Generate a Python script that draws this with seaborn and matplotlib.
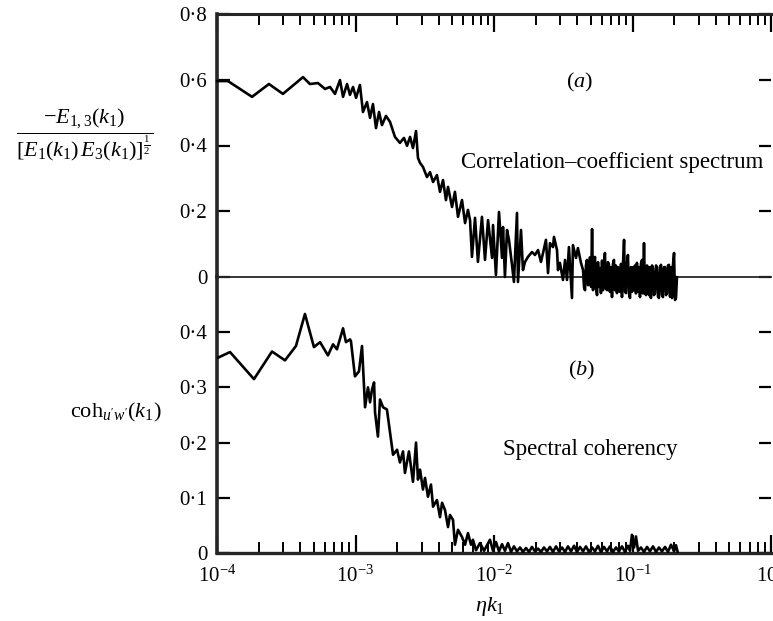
import numpy as np
import pandas as pd
import matplotlib
matplotlib.use("Agg")
import matplotlib.pyplot as plt
from matplotlib.ticker import FuncFormatter, LogLocator, NullFormatter
import seaborn as sns

# ---------------- data ----------------
# (a) correlation-coefficient spectrum: log10(eta k1) and value
log10_k_a = [
    -4.000, -3.921, -3.747, -3.625, -3.524, -3.379, -3.329, -3.271, -3.220, -3.184,
    -3.148, -3.112, -3.090, -3.061, -3.040, -3.018, -2.996, -2.968, -2.946, -2.917,
    -2.895, -2.874, -2.852, -2.830, -2.809, -2.780, -2.751, -2.715, -2.679, -2.650,
    -2.628, -2.606, -2.585, -2.563, -2.549, -2.534, -2.513, -2.484, -2.462, -2.440,
    -2.412, -2.390, -2.368, -2.347, -2.332, -2.303, -2.282, -2.260, -2.231, -2.209,
    -2.188, -2.173, -2.159, -2.137, -2.116, -2.087, -2.065, -2.043, -2.014, -2.007,
    -1.986, -1.964, -1.942, -1.935, -1.921, -1.906, -1.892, -1.870, -1.856, -1.834,
    -1.827, -1.805, -1.791, -1.776, -1.755, -1.726, -1.704, -1.682, -1.661, -1.646,
    -1.625, -1.610, -1.596, -1.574, -1.567, -1.545, -1.538, -1.524, -1.502, -1.487,
    -1.473, -1.459, -1.437, -1.430, -1.408, -1.394, -1.372,
    -1.357, -1.350, -1.343, -1.336, -1.329, -1.321, -1.314, -1.307, -1.299, -1.292,
    -1.285, -1.278, -1.271, -1.263, -1.256, -1.249, -1.242, -1.235, -1.228, -1.220,
    -1.213, -1.206, -1.199, -1.192, -1.184, -1.177, -1.170, -1.163, -1.155, -1.148,
    -1.141, -1.134, -1.127, -1.120, -1.112, -1.105, -1.098, -1.091, -1.083, -1.076,
    -1.069, -1.061, -1.054, -1.047, -1.040, -1.033, -1.025, -1.018, -1.011, -1.004,
    -0.996, -0.989, -0.982, -0.975, -0.968, -0.960, -0.953, -0.946, -0.939, -0.931,
    -0.924, -0.917, -0.910, -0.903, -0.895, -0.888, -0.881, -0.874, -0.867, -0.859,
    -0.852, -0.845, -0.838, -0.830, -0.823, -0.816, -0.809, -0.801, -0.794, -0.787,
    -0.780, -0.773, -0.765, -0.758, -0.751, -0.744, -0.737, -0.729, -0.722, -0.715,
    -0.708, -0.700, -0.693, -0.686, -0.679,
]
coeff_a = [
    0.596, 0.596, 0.548, 0.587, 0.557, 0.608, 0.587, 0.590, 0.572, 0.578,
    0.557, 0.599, 0.548, 0.587, 0.554, 0.578, 0.545, 0.584, 0.502, 0.532,
    0.484, 0.526, 0.453, 0.502, 0.462, 0.490, 0.472, 0.426, 0.408, 0.423,
    0.399, 0.426, 0.392, 0.444, 0.362, 0.347, 0.335, 0.304, 0.319, 0.289,
    0.310, 0.259, 0.295, 0.234, 0.274, 0.213, 0.259, 0.183, 0.234, 0.164,
    0.204, 0.173, 0.061, 0.180, 0.046, 0.183, 0.052, 0.173, 0.058, 0.158,
    0.006, 0.198, 0.058, 0.152, 0.000, 0.143, 0.113, 0.037, -0.015, 0.195,
    -0.015, 0.143, 0.021, 0.046, 0.061, 0.076, 0.067, 0.082, 0.046, 0.073,
    0.113, 0.012, 0.103, 0.091, 0.122, 0.082, 0.021, 0.043, -0.009, 0.052,
    -0.009, 0.091, -0.064, 0.097, 0.058, 0.088, 0.043,
    0.021, -0.030, -0.040, 0.035, 0.052, -0.025, -0.018, 0.060, -0.030, 0.146,
    -0.040, 0.040, 0.061, -0.035, -0.055, 0.045, -0.030, 0.027, -0.049, 0.050,
    -0.040, 0.040, 0.073, -0.035, -0.040, 0.045, 0.037, -0.045, 0.030, -0.061,
    0.040, 0.052, -0.040, 0.035, -0.049, 0.030, 0.021, -0.045, 0.040, -0.061,
    0.035, 0.113, -0.045, -0.049, 0.040, 0.067, -0.050, -0.064, 0.030, -0.045,
    0.030, -0.040, 0.035, -0.050, 0.043, -0.045, 0.030, -0.061, 0.040, 0.052,
    -0.050, 0.103, -0.045, -0.055, 0.035, 0.021, -0.055, 0.030, -0.064, 0.035,
    0.027, -0.055, -0.049, 0.035, 0.030, -0.060, -0.064, 0.030, 0.037, -0.055,
    -0.061, 0.030, 0.030, -0.055, -0.049, 0.035, 0.037, -0.060, 0.030, -0.064,
    0.035, 0.073, -0.070, -0.064, 0.000,
]

# (b) spectral coherency
log10_k_b = [
    -4.000, -3.906, -3.733, -3.603, -3.509, -3.430, -3.365, -3.300, -3.256, -3.199,
    -3.162, -3.134, -3.090, -3.069, -3.040, -3.033, -3.004, -2.975, -2.953, -2.931,
    -2.910, -2.895, -2.881, -2.866, -2.859, -2.838, -2.823, -2.801, -2.773, -2.729,
    -2.700, -2.679, -2.657, -2.643, -2.614, -2.585, -2.563, -2.549, -2.534, -2.513,
    -2.498, -2.477, -2.455, -2.440, -2.412, -2.390, -2.375, -2.354, -2.332, -2.318,
    -2.296, -2.282, -2.260, -2.231, -2.209, -2.188, -2.166, -2.152, -2.130, -2.101,
    -2.072, -2.029, -2.007, -1.986, -1.964, -1.942, -1.921, -1.899, -1.877, -1.856,
    -1.834, -1.812, -1.791, -1.769, -1.747, -1.726, -1.704, -1.682, -1.661, -1.639,
    -1.617, -1.596, -1.574, -1.552, -1.531, -1.509, -1.487, -1.466, -1.444, -1.422,
    -1.401, -1.379, -1.357, -1.336, -1.314, -1.292, -1.271, -1.249, -1.228, -1.206,
    -1.184, -1.163, -1.141, -1.119, -1.098, -1.076, -1.054, -1.033, -1.018, -1.004,
    -0.989, -0.975, -0.960, -0.939, -0.917, -0.895, -0.874, -0.852, -0.830, -0.809,
    -0.787, -0.765, -0.744, -0.722, -0.700, -0.686, -0.672,
]
coh_b = [
    0.353, 0.364, 0.315, 0.365, 0.349, 0.375, 0.433, 0.373, 0.382, 0.358,
    0.378, 0.369, 0.407, 0.382, 0.387, 0.384, 0.320, 0.329, 0.375, 0.264,
    0.300, 0.273, 0.296, 0.309, 0.255, 0.211, 0.278, 0.264, 0.260, 0.178,
    0.187, 0.164, 0.184, 0.145, 0.184, 0.129, 0.200, 0.133, 0.151, 0.115,
    0.136, 0.102, 0.124, 0.084, 0.096, 0.065, 0.091, 0.078, 0.047, 0.069,
    0.060, 0.015, 0.042, 0.029, 0.015, 0.036, 0.015, 0.024, 0.005, 0.018,
    0.004, 0.024, 0.004, 0.020, 0.003, 0.016, 0.004, 0.018, 0.002, 0.012,
    0.003, 0.010, 0.002, 0.009, 0.002, 0.011, 0.003, 0.008, 0.002, 0.010,
    0.003, 0.011, 0.002, 0.012, 0.003, 0.010, 0.002, 0.012, 0.003, 0.013,
    0.002, 0.011, 0.003, 0.012, 0.002, 0.010, 0.003, 0.013, 0.002, 0.011,
    0.003, 0.012, 0.002, 0.010, 0.003, 0.012, 0.002, 0.013, 0.004, 0.033,
    0.010, 0.030, 0.004, 0.010, 0.002, 0.011, 0.003, 0.012, 0.002, 0.010,
    0.003, 0.011, 0.002, 0.015, 0.003, 0.014, 0.000,
]

y_ticks_a = [0, 0.2, 0.4, 0.6, 0.8]
y_ticks_b = [0, 0.1, 0.2, 0.3, 0.4]

df_a = pd.DataFrame({"k": 10 ** np.array(log10_k_a), "v": coeff_a})
df_b = pd.DataFrame({"k": 10 ** np.array(log10_k_b), "v": coh_b})

# ---------------- style ----------------
sns.set_theme(style="ticks")
plt.rcParams["font.family"] = ["Liberation Serif", "DejaVu Serif"]
plt.rcParams["mathtext.fontset"] = "custom"
plt.rcParams["mathtext.rm"] = "Liberation Serif"
plt.rcParams["mathtext.it"] = "Liberation Serif:italic"
plt.rcParams["mathtext.bf"] = "Liberation Serif:bold"

W, H = 773, 621
fig = plt.figure(figsize=(W / 100, H / 100), dpi=100)
fig.patch.set_facecolor("white")

left, right = 217 / W, 771 / W
y_top, y_mid, y_bot = 1 - 14 / H, 1 - 277 / H, 1 - 553 / H
ax_b = fig.add_axes([left, y_bot, right - left, y_mid - y_bot])
ax_a = fig.add_axes([left, y_mid, right - left, y_top - y_mid])
ax_b.patch.set_visible(False)
ax_a.patch.set_visible(False)
ax_a.set_zorder(3)

sns.lineplot(data=df_a, x="k", y="v", ax=ax_a, sort=False, estimator=None,
             color="black", lw=1.9, clip_on=False, zorder=3)
sns.lineplot(data=df_b, x="k", y="v", ax=ax_b, sort=False, estimator=None,
             color="black", lw=1.9, zorder=3)

fmt = FuncFormatter(lambda v, p: "0" if abs(v) < 1e-9 else f"{v:.1f}".replace(".", "\u00b7"))

for ax in (ax_a, ax_b):
    ax.set_xscale("log")
    ax.set_xlim(1e-4, 1)
    ax.set_xlabel("")
    ax.set_ylabel("")
    ax.spines["right"].set_visible(False)
    ax.spines["left"].set_linewidth(2.6)
    ax.yaxis.set_major_formatter(fmt)
    ax.tick_params(axis="y", which="major", direction="in", left=True, right=True,
                   length=9, width=1.6, labelsize=15, pad=7, colors="black")
    ax.xaxis.set_major_locator(LogLocator(base=10, numticks=10))
    ax.xaxis.set_minor_locator(LogLocator(base=10, subs=np.arange(2, 10), numticks=20))
    ax.xaxis.set_minor_formatter(NullFormatter())

ax_a.set_ylim(0, 0.8)
ax_a.set_yticks(y_ticks_a)
ax_a.spines["top"].set_linewidth(2.2)
ax_a.spines["bottom"].set_linewidth(1.3)
ax_a.tick_params(axis="x", which="both", direction="in", top=True, bottom=False,
                 labelbottom=False, labeltop=False, colors="black")
ax_a.tick_params(axis="x", which="major", length=13, width=1.6)
ax_a.tick_params(axis="x", which="minor", length=8, width=1.4)

ax_b.set_ylim(0, 0.5)
ax_b.set_yticks(y_ticks_b)
ax_b.spines["top"].set_visible(False)
ax_b.spines["bottom"].set_linewidth(2.4)
ax_b.tick_params(axis="x", which="both", direction="in", top=False, bottom=True,
                 labelsize=15, pad=9, colors="black")
ax_b.tick_params(axis="x", which="major", length=13, width=1.6)
ax_b.tick_params(axis="x", which="minor", length=8, width=1.4)

def ftext(x, y, s, **kw):
    fig.text(x / W, 1 - y / H, s, ha="center", va="center", color="black", **kw)

ftext(580, 82, r"($a$)", fontsize=16)
ftext(612, 162, "Correlation\u2013coefficient spectrum", fontsize=16.5)
ftext(582, 370, r"($b$)", fontsize=16)
ftext(590, 450, "Spectral coherency", fontsize=16.5)
ftext(85, 135, r"$\dfrac{-E_{1,3}(k_1)}{[E_1(k_1)\,E_3(k_1)]^{\frac{1}{2}}}$", fontsize=16)
ftext(116, 412, r"$\mathrm{coh}_{u^{\prime}w^{\prime}}(k_1)$", fontsize=16)
ftext(490, 606, r"$\eta k_1$", fontsize=16)

fig.savefig("out.png", dpi=100, facecolor="white")
